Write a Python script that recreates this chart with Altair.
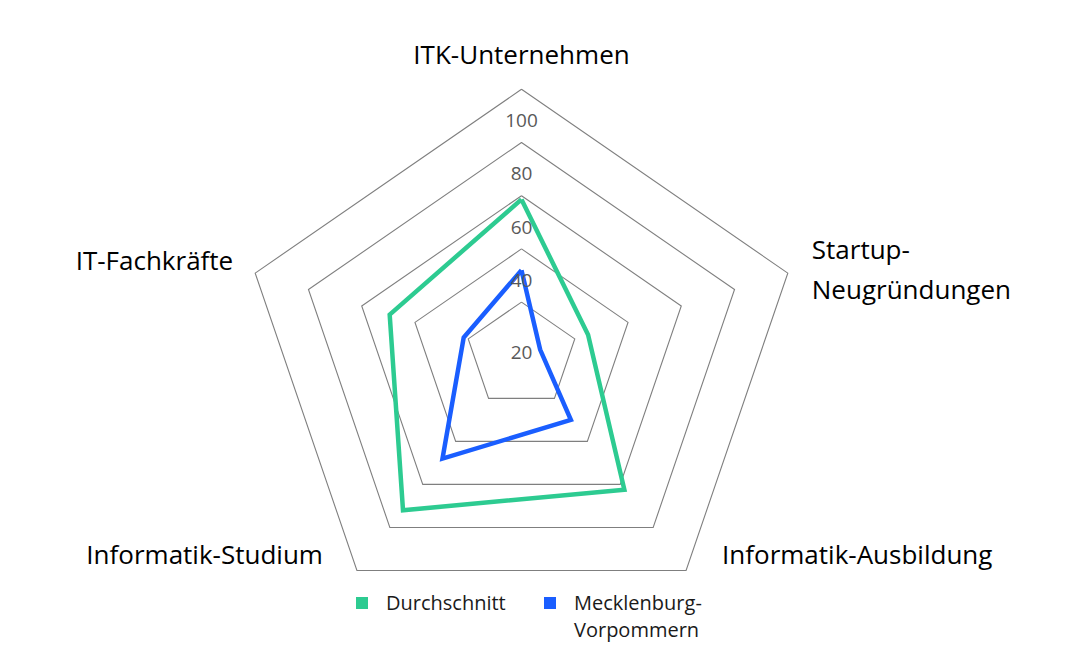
import math
import altair as alt
import pandas as pd

# ---------------- data ----------------
categories = ["ITK-Unternehmen", "Startup-Neugründungen", "Informatik-Ausbildung",
              "Informatik-Studium", "IT-Fachkräfte"]
category_lines = [["ITK-Unternehmen"], ["Startup-", "Neugründungen"], ["Informatik-Ausbildung"],
                  ["Informatik-Studium"], ["IT-Fachkräfte"]]
series_names = ["Durchschnitt", "Mecklenburg-Vorpommern"]
series_label_lines = [["Durchschnitt"], ["Mecklenburg-", "Vorpommern"]]
durchschnitt = [58.6, 25.0, 62.5, 72.0, 49.5]
mecklenburg_vorpommern = [32.0, 7.0, 30.0, 48.0, 21.7]
ring_values = [20, 40, 60, 80, 100]
tick_labels = ["20", "40", "60", "80", "100"]
series_colors = ["#2DCB91", "#1A5EFF"]

# ---------------- layout / style ----------------
W, H = 1090, 668
CX, CY = 521.5, 355.3          # centre of the web in pixels
KX, KY = 2.8, 2.66             # pixels per value unit (horizontal / vertical)
FONT = "Open Sans"
n = len(categories)
LEGEND_SYMBOL_PX = [362, 550]  # legend swatch centres (x), row at LEGEND_Y
LEGEND_Y = 603
LEGEND_TEXT_GAP = 24


def polar(v, k):
    a = 2 * math.pi * k / n
    return v * math.sin(a), v * math.cos(a)


def px_to_units(px, py):
    return (px - CX) / KX, (CY - py) / KY


# rings
ring_rows = []
for r in ring_values:
    for k in range(n + 1):
        x, y = polar(r, k % n)
        ring_rows.append({"ring": r, "k": k, "x": x, "y": y})
rings_df = pd.DataFrame(ring_rows)

# series
ser_rows = []
for name, vals in zip(series_names, [durchschnitt, mecklenburg_vorpommern]):
    for k in range(n + 1):
        x, y = polar(vals[k % n], k % n)
        ser_rows.append({"Serie": name, "k": k, "x": x, "y": y})
ser_df = pd.DataFrame(ser_rows)

# tick labels (placed just inside each ring, along the top axis)
tick_df = pd.DataFrame({
    "label": tick_labels,
    "x": [0.0] * len(ring_values),
    "y": [v - 12 if v > 20 else v - 19 for v in ring_values],
})

# category labels: anchored at the outer vertex plus a pixel offset
label_style = [  # (align, dx px, dy px)
    ("center", 0, -33),
    ("left", 24, -22),
    ("left", 36, -14),
    ("right", -34, -14),
    ("right", -22, -11),
]
cat_rows = []
for k, (lines, (al, dx, dy)) in enumerate(zip(category_lines, label_style)):
    x, y = polar(ring_values[-1], k)
    cat_rows.append({"lines": lines, "align": al, "x": x + dx / KX, "y": y - dy / KY})
cat_df = pd.DataFrame(cat_rows)

# legend (swatch + label per series)
leg_rows = []
for name, lab, sx in zip(series_names, series_label_lines, LEGEND_SYMBOL_PX):
    x0, y0 = px_to_units(sx, LEGEND_Y)
    x1, y1 = px_to_units(sx + LEGEND_TEXT_GAP, LEGEND_Y + 1)
    leg_rows.append({"Serie": name, "lines": lab, "sx": x0, "sy": y0, "tx": x1, "ty": y1})
leg_df = pd.DataFrame(leg_rows)

xscale = alt.Scale(domain=[-CX / KX, (W - CX) / KX], nice=False, zero=False)
yscale = alt.Scale(domain=[-(H - CY) / KY, CY / KY], nice=False, zero=False)
cscale = alt.Scale(domain=series_names, range=series_colors)


def X(f="x"):
    return alt.X(f"{f}:Q", scale=xscale, axis=None)


def Y(f="y"):
    return alt.Y(f"{f}:Q", scale=yscale, axis=None)


rings = alt.Chart(rings_df).mark_line(color="#7F7F7F", strokeWidth=1.1).encode(
    x=X(), y=Y(), detail="ring:N", order="k:Q")

lines = alt.Chart(ser_df).mark_line(strokeWidth=4.5, strokeJoin="miter").encode(
    x=X(), y=Y(), order="k:Q",
    color=alt.Color("Serie:N", scale=cscale, legend=None))

ticks = alt.Chart(tick_df).mark_text(font=FONT, fontSize=19, color="#595959",
                                     baseline="middle").encode(
    x=X(), y=Y(), text="label:N")

cat_layers = []
for al in ["center", "left", "right"]:
    sub = cat_df[cat_df["align"] == al].drop(columns=["align"])
    cat_layers.append(
        alt.Chart(sub).mark_text(font=FONT, fontSize=26, color="#000000", align=al,
                                 baseline="middle", lineHeight=40).encode(
            x=X(), y=Y(), text="lines"))

leg_sym = alt.Chart(leg_df).mark_square(size=144, opacity=1, filled=True).encode(
    x=X("sx"), y=Y("sy"), color=alt.Color("Serie:N", scale=cscale, legend=None))
leg_txt = alt.Chart(leg_df).mark_text(font=FONT, fontSize=20, color="#1A1A1A",
                                      align="left", baseline="middle",
                                      lineHeight=27).encode(
    x=X("tx"), y=Y("ty"), text="lines")

chart = alt.layer(rings, lines, ticks, *cat_layers, leg_sym, leg_txt).properties(
    width=W, height=H, padding=0, autosize=alt.AutoSizeParams(type="none"),
    background="#FFFFFF",
).configure_view(stroke=None)

chart.save("out.html", embed_options={"renderer": "svg", "actions": False})
